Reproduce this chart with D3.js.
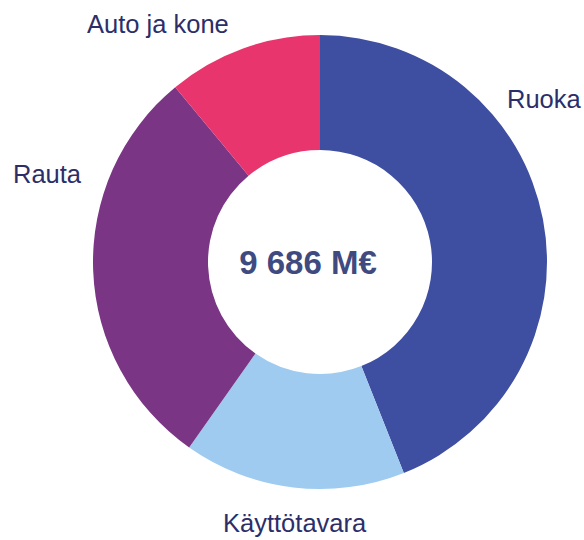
<!DOCTYPE html>
<html>
<head>
<meta charset="utf-8">
<script src="https://cdn.jsdelivr.net/npm/d3@7"></script>
<style>
  body { margin: 0; background: #fff; }
  text { font-family: "Liberation Sans", Arial, sans-serif; }
</style>
</head>
<body>
<script>
var width = 584;
var height = 540;

// data (M€)
var categories = ["Ruoka", "Käyttötavara", "Rauta", "Auto ja kone"];
var values = [4260, 1530, 2830, 1066];
var colours = ["#3e4ea0", "#9ecbef", "#7b3585", "#e8356e"];
var totalLabel = "9 686 M€";

var svg = d3.select("body").append("svg")
            .attr("width", width)
            .attr("height", height);

var cx = 320, cy = 262;
var outerR = 227, innerR = 112;

var pie = d3.pie()
            .sort(null)
            .value(function(d) { return d.value; });

var arc = d3.arc()
            .innerRadius(innerR)
            .outerRadius(outerR);

var color = d3.scaleOrdinal()
              .domain(categories)
              .range(colours);

var data = categories.map(function(c, i) { return {name: c, value: values[i]}; });

var g = svg.append("g")
           .attr("transform", "translate(" + cx + "," + cy + ")");

g.selectAll("path")
 .data(pie(data))
 .enter()
 .append("path")
 .attr("d", arc)
 .attr("fill", function(d) { return color(d.data.name); });

// label positions around the ring
var labelPos = {
  "Ruoka":        {x: 507, y: 108},
  "Käyttötavara": {x: 223, y: 532},
  "Rauta":        {x: 13,  y: 183},
  "Auto ja kone": {x: 87,  y: 33}
};

svg.selectAll("text.label")
   .data(categories)
   .enter()
   .append("text")
   .attr("class", "label")
   .attr("x", function(d) { return labelPos[d].x; })
   .attr("y", function(d) { return labelPos[d].y; })
   .attr("font-size", 25.5)
   .attr("fill", "#2b2e68")
   .text(function(d) { return d; });

svg.append("text")
   .attr("x", 308)
   .attr("y", 274)
   .attr("text-anchor", "middle")
   .attr("font-size", 33)
   .attr("font-weight", "bold")
   .attr("fill", "#3f4a80")
   .text(totalLabel);
</script>
</body>
</html>
